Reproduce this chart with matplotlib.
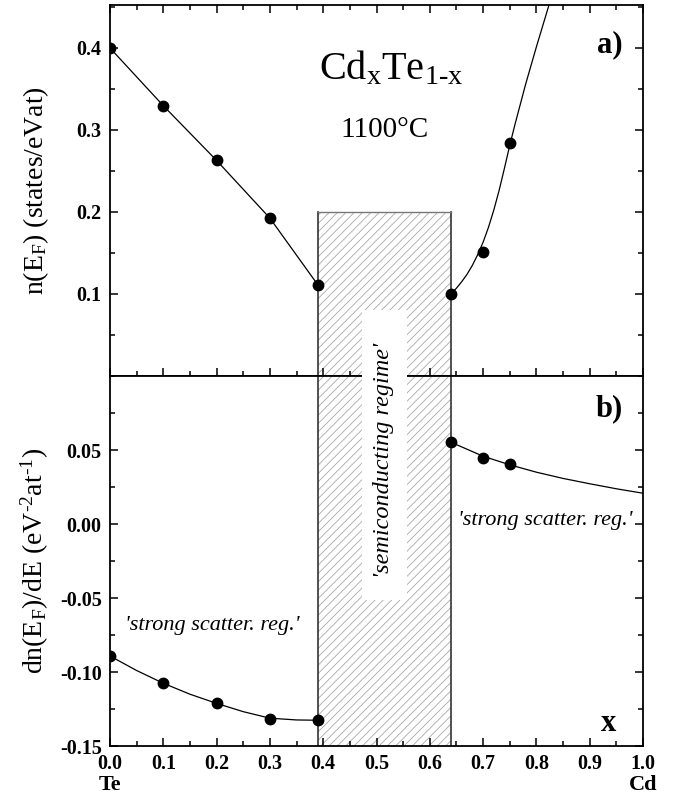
"""Cd_xTe_1-x at 1100 C: n(E_F) and its derivative vs. composition x."""

import matplotlib
matplotlib.use('Agg')
import matplotlib.pyplot as plt
from matplotlib.patches import Rectangle
from matplotlib.ticker import MultipleLocator, FormatStrFormatter

# Data
# panel a) n(E_F), measured points
a_left_x = [0.0, 0.1, 0.2, 0.3, 0.39]
a_left_y = [0.3996, 0.3293, 0.2626, 0.1923, 0.111]
a_right_x = [0.64, 0.70, 0.75]
a_right_y = [0.100, 0.151, 0.284]
# panel a) fitted curve right of the gap
a_fit_x = [0.64, 0.65, 0.66, 0.67, 0.68, 0.69, 0.70, 0.71, 0.72, 0.73, 0.74, 0.75,
           0.76, 0.78, 0.80, 0.825]
a_fit_y = [0.100, 0.107, 0.115, 0.124, 0.135, 0.148, 0.163, 0.181, 0.202, 0.226, 0.253,
           0.281, 0.307, 0.356, 0.401, 0.455]

# panel b) dn(E_F)/dE, measured points
b_left_x = [0.0, 0.1, 0.2, 0.3, 0.39]
b_left_y = [-0.0892, -0.1076, -0.1212, -0.1318, -0.1324]
b_right_x = [0.64, 0.70, 0.75]
b_right_y = [0.0552, 0.0446, 0.0403]
# panel b) fitted curves
b_fit_left_x = [0.0, 0.05, 0.1, 0.15, 0.2, 0.25, 0.3, 0.35, 0.39]
b_fit_left_y = [-0.0892, -0.0990, -0.1076, -0.1150, -0.1212, -0.1268, -0.1312, -0.1324, -0.1326]
b_fit_right_x = [0.64, 0.70, 0.75, 0.80, 0.85, 0.90, 0.95, 1.0]
b_fit_right_y = [0.0552, 0.0458, 0.0400, 0.0350, 0.0308, 0.0272, 0.0238, 0.0208]

# semiconducting gap
gap_x0, gap_x1 = 0.39, 0.64
gap_top = 0.2

plt.rcParams['font.family'] = ['Liberation Serif', 'DejaVu Serif']
plt.rcParams['mathtext.fontset'] = 'custom'
plt.rcParams['mathtext.rm'] = 'Liberation Serif'
plt.rcParams['mathtext.it'] = 'Liberation Serif:italic'
plt.rcParams['mathtext.bf'] = 'Liberation Serif:bold'
plt.rcParams['axes.unicode_minus'] = False
plt.rcParams['hatch.color'] = '#a8a8a8'
plt.rcParams['hatch.linewidth'] = 0.6


def style_axes(ax):
    for sp in ax.spines.values():
        sp.set_linewidth(1.3)
    ax.xaxis.set_major_locator(MultipleLocator(0.1))
    ax.xaxis.set_minor_locator(MultipleLocator(0.05))
    ax.tick_params(which='both', direction='in', top=True, right=True, width=1.1,
                   labelsize=14.5, pad=6)
    ax.tick_params(which='major', length=6)
    ax.tick_params(which='minor', length=3.5)


def draw_gap(ax, y0, y1, top_edge):
    ax.add_patch(Rectangle((gap_x0, y0), gap_x1 - gap_x0, y1 - y0, facecolor='white',
                           edgecolor='#a8a8a8', linewidth=0, hatch='////', zorder=1))
    ax.plot([gap_x0, gap_x0], [y0, y1], color='#333333', lw=1.2, zorder=2)
    ax.plot([gap_x1, gap_x1], [y0, y1], color='#333333', lw=1.2, zorder=2)
    if top_edge:
        ax.plot([gap_x0, gap_x1], [y1, y1], color='#777777', lw=1.0, zorder=2)


fig = plt.figure(figsize=(6.8, 8.0), dpi=100)
ax_a = fig.add_axes([110 / 680, 1 - 376 / 800, 533 / 680, 371 / 800])
ax_b = fig.add_axes([110 / 680, 1 - 746 / 800, 533 / 680, 370 / 800])

# --- panel a
style_axes(ax_a)
ax_a.set_xlim(0, 1)
ax_a.set_ylim(0, 0.452)
ax_a.set_yticks([0.1, 0.2, 0.3, 0.4])
ax_a.yaxis.set_minor_locator(MultipleLocator(0.05))
ax_a.tick_params(labelbottom=False)
draw_gap(ax_a, 0, gap_top, True)
ax_a.plot(a_left_x, a_left_y, color='black', lw=0.9, zorder=3)
ax_a.plot(a_fit_x, a_fit_y, color='black', lw=0.9, zorder=3)
ax_a.plot(a_left_x + a_right_x, a_left_y + a_right_y, 'o', color='black', ms=7.5, zorder=4)
ax_a.set_ylabel(r'n(E$_\mathrm{F}$) (states/eVat)', fontsize=20)
ax_a.yaxis.set_label_coords(-0.11, 0.5)
ax_a.text(0.528, 0.361, r'Cd$_\mathrm{x}$Te$_\mathrm{1\text{-}x}$', fontsize=29,
          ha='center', va='baseline')
ax_a.text(0.516, 0.2915, '1100°C', fontsize=21, ha='center', va='baseline')
ax_a.text(0.962, 0.395, 'a)', fontsize=22, fontweight='bold', ha='right', va='baseline')

# --- panel b
style_axes(ax_b)
ax_b.tick_params(which='both', top=False)
ax_b.set_xlim(0, 1)
ax_b.set_ylim(-0.15, 0.10)
ax_b.set_yticks([-0.15, -0.10, -0.05, 0.0, 0.05])
ax_b.yaxis.set_major_formatter(FormatStrFormatter('%.2f'))
ax_b.yaxis.set_minor_locator(MultipleLocator(0.025))
draw_gap(ax_b, -0.15, 0.10, False)
ax_b.plot(b_fit_left_x, b_fit_left_y, color='black', lw=0.9, zorder=3)
ax_b.plot(b_fit_right_x, b_fit_right_y, color='black', lw=0.9, zorder=3)
ax_b.plot(b_left_x + b_right_x, b_left_y + b_right_y, 'o', color='black', ms=7.5, zorder=4)
ax_b.set_ylabel(r'dn(E$_\mathrm{F}$)/dE (eV$^{\mathrm{\text{-}2}}$at$^{\mathrm{\text{-}1}}$)',
                fontsize=20)
ax_b.yaxis.set_label_coords(-0.11, 0.5)
ax_b.text(0.028, -0.0689, "'strong scatter. reg.'", fontsize=16, style='italic',
          ha='left', va='center')
ax_b.text(0.653, 0.0027, "'strong scatter. reg.'", fontsize=16, style='italic',
          ha='left', va='center')
ax_b.text(0.962, 0.078, 'b)', fontsize=22, fontweight='bold', ha='right', va='center')
ax_b.text(0.95, -0.135, 'x', fontsize=22, fontweight='bold', ha='right', va='center')
ax_b.text(0.0, -0.106, 'Te', fontsize=16, fontweight='bold', ha='center', va='center',
          transform=ax_b.get_xaxis_transform())
ax_b.text(1.0, -0.106, 'Cd', fontsize=16, fontweight='bold', ha='center', va='center',
          transform=ax_b.get_xaxis_transform())

for ax in (ax_a, ax_b):
    plt.setp(ax.get_xticklabels() + ax.get_yticklabels(), fontweight='bold')

# white label box over the gap, spanning both panels
fig.add_artist(Rectangle((362 / 680, 1 - 600 / 800), 45 / 680, 290 / 800,
                         transform=fig.transFigure, facecolor='white', edgecolor='none',
                         zorder=2))
fig.text(384 / 680, 1 - 460 / 800, "'semiconducting regime'", fontsize=17.5, style='italic',
         rotation=90, ha='center', va='center', zorder=3)

fig.savefig('out.png', dpi=100)
